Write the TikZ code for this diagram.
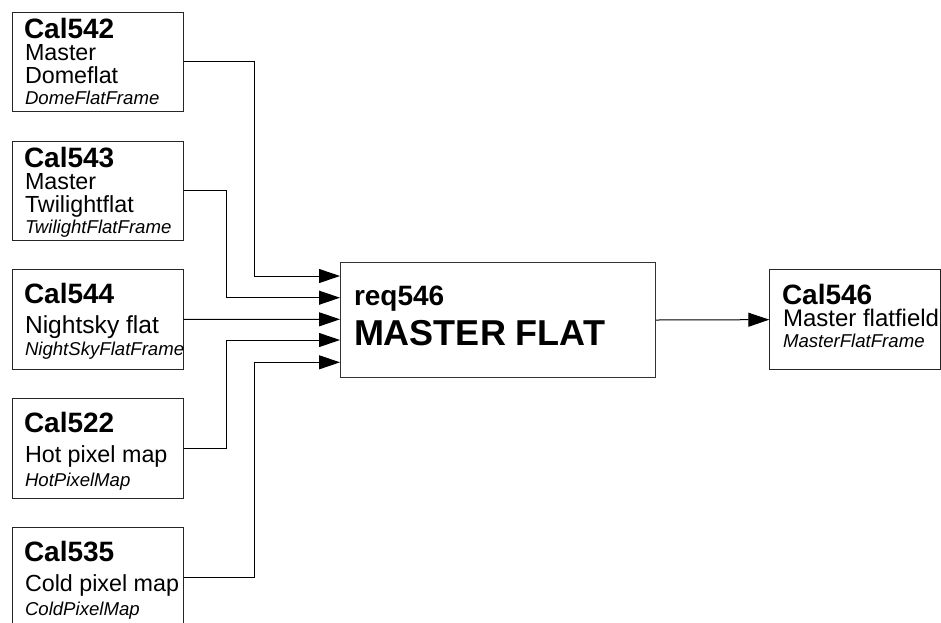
\documentclass[tikz,border=0pt]{standalone}
\usepackage{fontspec}
\setmainfont{Liberation Sans}
\usetikzlibrary{arrows.meta,calc}
\begin{document}
\begin{tikzpicture}[x=1pt,y=-1pt,
  box/.style={draw=black!85,line width=1pt,anchor=north west,inner sep=0pt,
    minimum width=171pt,minimum height=99.3pt},
  mbox/.style={draw=black!80,line width=1pt,anchor=north west,inner sep=0pt,
    minimum width=315pt,minimum height=114.4pt},
  txt/.style={anchor=base west,inner sep=0pt,outer sep=0pt},
  hdr/.style={txt,text depth=0pt,font=\bfseries\fontsize{28}{32}\selectfont},
  reg/.style={txt,text height=0.74em,font=\fontsize{23.3}{27}\selectfont},
  itl/.style={txt,text height=0.74em,font=\itshape\fontsize{18.6}{21}\selectfont},
  big/.style={txt,font=\bfseries\fontsize{36}{40}\selectfont},
  conn/.style={draw=black,line width=1pt},
  arr/.style={conn,-{Triangle[length=21pt,width=14pt]}}]
\useasboundingbox (0,0) rectangle (941,622);

% input boxes
\node[box] (c542) at (11.7,11.7) {};
\node[box] (c543) at (11.7,140.7) {};
\node[box] (c544) at (11.7,269.2) {};
\node[box] (c522) at (11.7,398.2) {};
\node[box] (c535) at (11.7,527.3) {};
% process box
\node[mbox] (m) at (340,262.3) {};
% output box
\node[box,minimum height=99.7pt] (c546) at (769.3,269.3) {};

% texts box 1
\node[hdr] (t1a) at (24,38.3) {Cal542};
\node[reg] (t1b) at (25,60) {Master};
\node[reg] (t1c) at (25,83.3) {Domeflat};
\node[itl] (t1d) at (25,104) {DomeFlatFrame};
% texts box 2
\node[hdr] (t2a) at (24,167.8) {Cal543};
\node[reg] (t2b) at (25,189.3) {Master};
\node[reg] (t2c) at (25,212.7) {Twilightflat};
\node[itl] (t2d) at (25,233.3) {TwilightFlatFrame};
% texts box 3
\node[hdr] (t3a) at (24,303.5) {Cal544};
\node[reg,font=\fontsize{24.6}{28}\selectfont] (t3b) at (25,333) {Nightsky flat};
\node[itl] (t3c) at (25,355.8) {NightSkyFlatFrame};
% texts box 4
\node[hdr] (t4a) at (24,432.8) {Cal522};
\node[reg] (t4b) at (25,462.6) {Hot pixel map};
\node[itl] (t4c) at (25,486) {HotPixelMap};
% texts box 5
\node[hdr] (t5a) at (24,561.8) {Cal535};
\node[reg] (t5b) at (25,591.7) {Cold pixel map};
\node[itl] (t5c) at (25,615) {ColdPixelMap};
% master texts
\node[hdr] (mt1) at (354,305) {req546};
\node[big] (mt2) at (354,345) {MASTER FLAT};
% output texts
\node[hdr] (ot1) at (782,304.3) {Cal546};
\node[reg,font=\fontsize{24}{28}\selectfont] (ot2) at (783,326.7) {Master flatfield};
\node[itl] (ot3) at (783,347.7) {MasterFlatFrame};

% connector coordinates
\coordinate (kA) at (254,0);
\coordinate (kB) at (226,0);
\coordinate (in1) at (340,276);
\coordinate (in2) at (340,297.7);
\coordinate (in3) at (340,319.3);
\coordinate (in4) at (340,340);
\coordinate (in5) at (340,362.3);

\draw[arr] (c542.east) -- (c542.east -| kA) -- (in1 -| kA) -- (in1);
\draw[arr] (c543.east) -- (c543.east -| kB) -- (in2 -| kB) -- (in2);
\draw[arr] (c544.east) -- (in3);
\draw[arr] (c522.east) -- (c522.east -| kB) -- (in4 -| kB) -- (in4);
\draw[arr] (c535.east) -- (c535.east -| kA) -- (in5 -| kA) -- (in5);
\draw[arr] (m.east) -- (c546.west);
\end{tikzpicture}
\end{document}
